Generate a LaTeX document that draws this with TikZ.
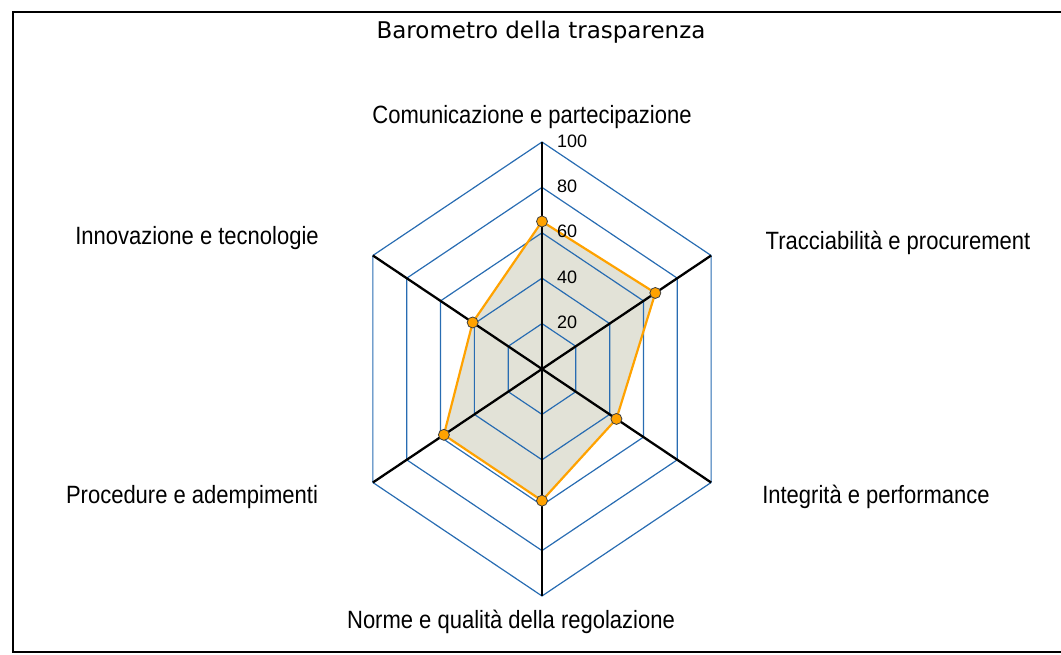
\documentclass[tikz,border=0pt]{standalone}
\usepackage{graphicx}
\usepackage{fontspec}
\setmainfont{Liberation Sans}
\newfontfamily\titlefont{DejaVu Sans}
\usepackage{tikz}
\usepackage{xcolor}
\usetikzlibrary{calc, positioning}
\definecolor{gridblue}{RGB}{40,108,178}
\definecolor{radarorange}{RGB}{255,162,0}
\definecolor{radarfill}{RGB}{226,226,215}
\newcommand{\narrowtext}[1]{\scalebox{0.88}[1]{#1}}
\tikzset{
    ring/.style={draw=gridblue, line width=1.2pt},
    spoke/.style={draw=black, line width=2.3pt},
    axislabel/.style={font=\fontsize{25}{28}\selectfont, inner sep=0pt, anchor=base},
    ticklabel/.style={font=\fontsize{18}{20}\selectfont, inner sep=0pt, anchor=west},
    datapt/.style={circle, draw=black!75, fill=radarorange, inner sep=0pt, minimum size=11pt, line width=0.8pt}
}

\begin{document}
\begin{tikzpicture}[x=1pt, y=1pt]
                        \useasboundingbox (0, 0) rectangle (1061, -655);
                        \begin{scope}
                        \clip (0, 0) rectangle (1061, -655);
                        \draw[line width=2pt] (1070, -12) -- (12.5, -12) -- (12.5, -652) -- (1070, -652);
                        \end{scope}
                        \node[font=\titlefont\fontsize{23}{26}\selectfont, inner sep=0pt, anchor=base] (title) at (541, -39) {Barometro della trasparenza};
                        \begin{scope}[shift={(542, -369)}, x=1.953pt, y=2.27pt]
                        \coordinate (ctr) at (0, 0);
                        \foreach \a [count=\i] in {90, 30, -30, -90, -150, -210}
                            \coordinate (v\i) at ({100*cos(\a)}, {100*sin(\a)});
                        \foreach \v/\a [count=\i] in {65/90, 67/30, 44/-30, 58/-90, 58/-150, 41/-210}
                            \coordinate (p\i) at ({\v*cos(\a)}, {\v*sin(\a)});
                        \fill[radarfill] (p1) -- (p2) -- (p3) -- (p4) -- (p5) -- (p6) -- cycle;
                        \foreach \r in {20, 40, ..., 100}
                            \draw[ring] ({\r*cos(90)}, {\r*sin(90)})
                            \foreach \a in {30, -30, ..., -210} { -- ({\r*cos(\a)}, {\r*sin(\a)}) } -- cycle;
                        \foreach \i in {1, ..., 6}
                            \draw[spoke] (ctr) -- (v\i);
                        \draw[radarorange, line width=2.2pt, line join=round]
                        (p1) -- (p2) -- (p3) -- (p4) -- (p5) -- (p6) -- cycle;
                        \foreach \i in {1, ..., 6}
                            \node[datapt] (m\i) at (p\i) {};
                        \foreach \r in {20, 40, ..., 100}
                            \node[ticklabel, xshift=15pt, yshift=1pt] (t\r) at (0, \r) {\r};
                        \end{scope}
                        \node[axislabel] (comm) at (532, -124) {\narrowtext{Comunicazione e partecipazione}};
                        \node[axislabel] (trac) at (898, -250) {\narrowtext{Tracciabilità e procurement}};
                        \node[axislabel] (integ) at (876, -503) {\narrowtext{Integrità e performance}};
                        \node[axislabel] (norme) at (511, -628) {\narrowtext{Norme e qualità della regolazione}};
                        \node[axislabel] (proc) at (192, -503) {\narrowtext{Procedure e adempimenti}};
                        \node[axislabel] (innov) at (197, -245) {\narrowtext{Innovazione e tecnologie}};
                    \end{tikzpicture}
\end{document}
